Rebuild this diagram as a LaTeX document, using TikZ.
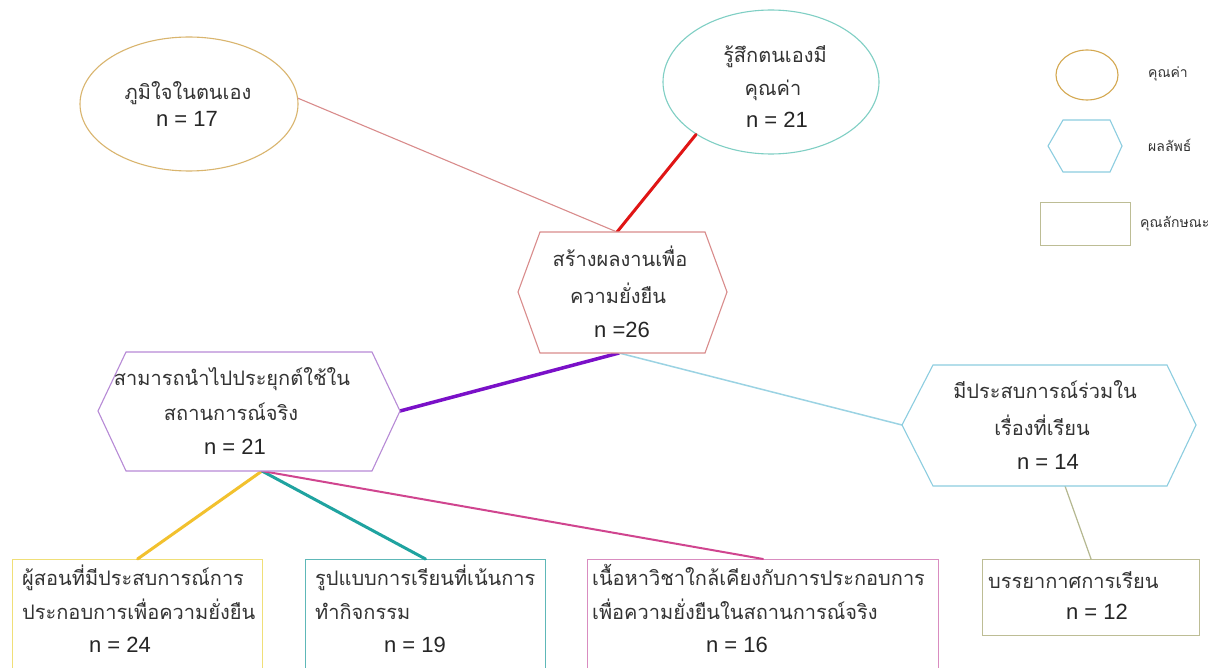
\documentclass[tikz,border=0pt]{standalone}
\usepackage{fontspec}
\setmainfont{Liberation Sans}
\newfontfamily\thaifont[Script=Thai]{Loma}
\usetikzlibrary{shapes.geometric}
\definecolor{cE1}{HTML}{D9B56E}
\definecolor{cE2}{HTML}{7FCFC4}
\definecolor{cCH}{HTML}{D98C8C}
\definecolor{cLH}{HTML}{B78AD6}
\definecolor{cRH}{HTML}{8CCDE0}
\definecolor{cB1}{HTML}{F0DF78}
\definecolor{cB2}{HTML}{5EB8B8}
\definecolor{cB3}{HTML}{D98CC0}
\definecolor{cB4}{HTML}{BDBD95}
\definecolor{cLE}{HTML}{D4A850}
\definecolor{lRed}{HTML}{E01515}
\definecolor{lPur}{HTML}{7A10C8}
\definecolor{lBlu}{HTML}{9BD3E3}
\definecolor{lYel}{HTML}{F2C12E}
\definecolor{lTea}{HTML}{1FA3A0}
\definecolor{lMag}{HTML}{D0458F}
\definecolor{lOli}{HTML}{B5B890}
\begin{document}
\begin{tikzpicture}[x=1pt,y=-1pt,
  th/.style={font=\thaifont\fontsize{20}{24}\selectfont, inner sep=0pt, anchor=base, text=black!80},
  thw/.style={th, anchor=base west},
  nn/.style={font=\fontsize{22}{26}\selectfont, inner sep=0pt, anchor=base, text=black!85},
  lg/.style={font=\thaifont\fontsize{14}{16}\selectfont, inner sep=0pt, anchor=base west, text=black!80},
  shp/.style={line width=1.1pt},
  ell/.style={ellipse, shp, inner sep=0pt, fill=white},
  boxn/.style={rectangle, shp, inner sep=0pt, anchor=north west},
  conn/.style={line cap=round}]
\useasboundingbox (0,0) rectangle (1215,668);
\clip (0,0) rectangle (1215,668);
\fill[white] (0,0) rectangle (1215,668);

% ---------- attachment coordinates ----------
\coordinate (chT) at (617,232);
\coordinate (chB) at (619,353);
\coordinate (lhR) at (400,411);
\coordinate (lhB) at (262,471);
\coordinate (rhL) at (902,425);
\coordinate (rhB) at (1065,486);

% ---------- value ellipses ----------
\node[ell, draw=cE1, minimum width=218, minimum height=134] (e1) at (189,104) {};
\node[ell, draw=cE2, minimum width=216, minimum height=144] (e2) at (771,82) {};

% ---------- boxes ----------
\node[boxn, draw=cB1, minimum width=250, minimum height=120] (b1) at (12,559) {};
\node[boxn, draw=cB2, minimum width=240, minimum height=120] (b2) at (305,559) {};
\node[boxn, draw=cB3, minimum width=351, minimum height=120] (b3) at (587,559) {};
\node[boxn, draw=cB4, minimum width=217, minimum height=76] (b4) at (982,559) {};

% ---------- connectors ----------
\draw[conn, cCH, line width=1.1pt] (e1.3) -- (chT);
\draw[conn, lRed, line width=3pt] (e2.215) -- (chT);
\draw[conn, lPur, line width=3.5pt] (chB) -- (lhR);
\draw[conn, lBlu, line width=1.5pt] (chB) -- (rhL);
\draw[conn, lYel, line width=3pt] (lhB) -- (b1.north);
\draw[conn, lTea, line width=3pt] (lhB) -- (b2.north);
\draw[conn, lMag, line width=2pt] (lhB) -- (b3.north);
\draw[conn, lOli, line width=1.2pt] (rhB) -- (b4.north);

% ---------- outcome hexagons ----------
\draw[shp, draw=cCH, fill=white] (518,292) -- (540,232) -- (705,232) -- (727,292) -- (705,353) -- (540,353) -- cycle;
\draw[shp, draw=cLH, fill=white] (98,411) -- (126,352) -- (372,352) -- (400,411) -- (372,471) -- (126,471) -- cycle;
\draw[shp, draw=cRH, fill=white] (902,425) -- (933,365) -- (1167,365) -- (1196,425) -- (1167,486) -- (933,486) -- cycle;

% ---------- texts ----------
\node[th] (e1a) at (188,100) {ภูมิใจในตนเอง};
\node[nn] (e1n) at (187,127) {n = 17};
\node[th] (e2a) at (775,63) {รู้สึกตนเองมี};
\node[th] (e2b) at (773,96) {คุณค่า};
\node[nn] (e2n) at (777,128) {n = 21};

\node[th] (cha) at (620,267) {สร้างผลงานเพื่อ};
\node[th] (chb) at (618,303) {ความยั่งยืน};
\node[nn] (chn) at (622,337) {n =26};

\node[th] (lha) at (232,385) {สามารถนำไปประยุกต์ใช้ใน};
\node[th] (lhb) at (231,420) {สถานการณ์จริง};
\node[nn] (lhn) at (235,454) {n = 21};

\node[th] (rha) at (1045,398) {มีประสบการณ์ร่วมใน};
\node[th] (rhb) at (1042,435) {เรื่องที่เรียน};
\node[nn] (rhn) at (1048,469) {n = 14};

\node[thw] (b1a) at (22,585) {ผู้สอนที่มีประสบการณ์การ};
\node[thw] (b1b) at (22,619) {ประกอบการเพื่อความยั่งยืน};
\node[nn] (b1n) at (120,652) {n = 24};

\node[thw] (b2a) at (315,585) {รูปแบบการเรียนที่เน้นการ};
\node[thw] (b2b) at (315,619) {ทำกิจกรรม};
\node[nn] (b2n) at (415,652) {n = 19};

\node[thw] (b3a) at (592,585) {เนื้อหาวิชาใกล้เคียงกับการประกอบการ};
\node[thw] (b3b) at (592,619) {เพื่อความยั่งยืนในสถานการณ์จริง};
\node[nn] (b3n) at (737,652) {n = 16};

\node[thw] (b4a) at (988,588) {บรรยากาศการเรียน};
\node[nn] (b4n) at (1097,619) {n = 12};

% ---------- legend ----------
\node[ell, draw=cLE, minimum width=62, minimum height=50] (lgE) at (1087,75) {};
\draw[shp, draw=cRH] (1048,146) -- (1063,120) -- (1110,120) -- (1122,146) -- (1110,172) -- (1063,172) -- cycle;
\node[boxn, draw=cB4, minimum width=90, minimum height=43] (lgR) at (1040,202) {};
\node[lg] (lgEt) at (1148,78) {คุณค่า};
\node[lg] (lgHt) at (1148,152) {ผลลัพธ์};
\node[lg] (lgRt) at (1140,228) {คุณลักษณะ};
\end{tikzpicture}
\end{document}
